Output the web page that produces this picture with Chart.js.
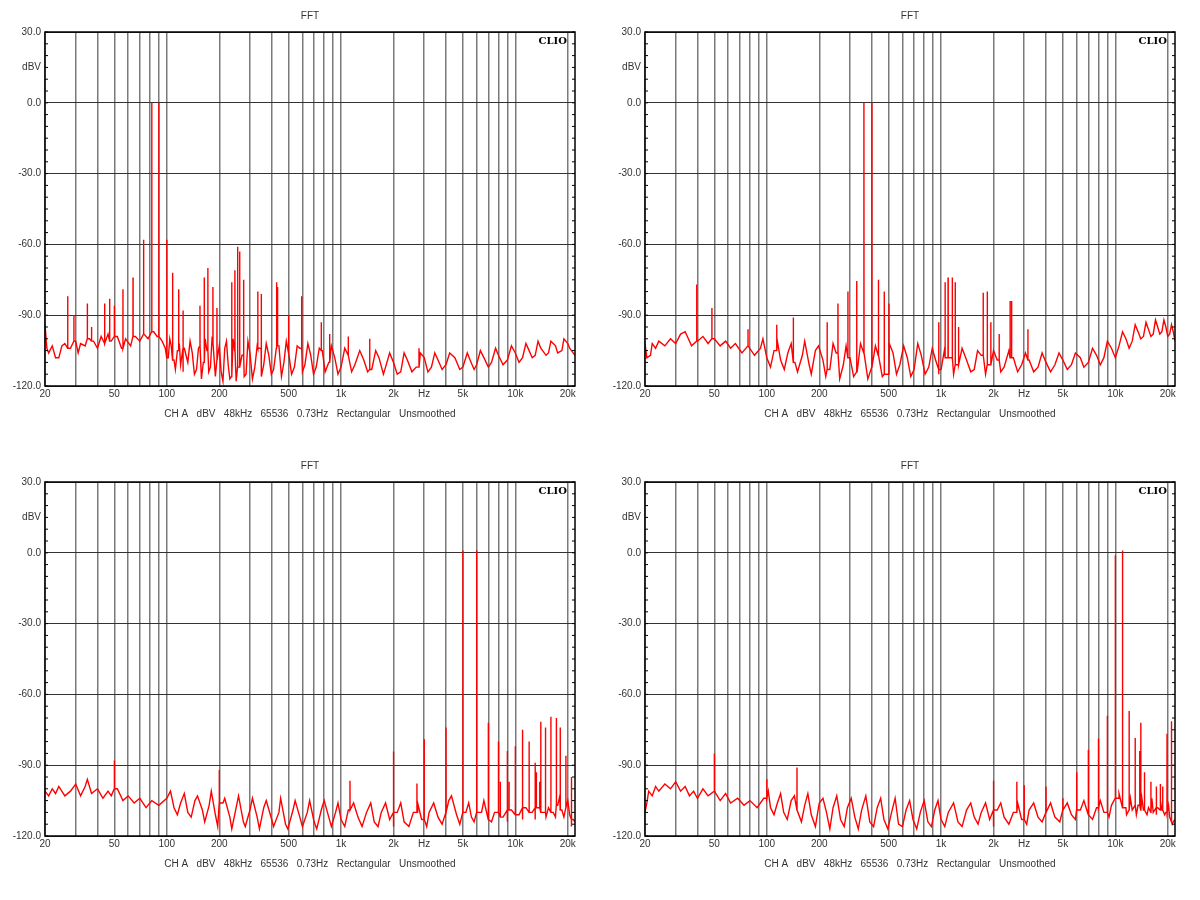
<!DOCTYPE html>
<html>
<head>
<meta charset="utf-8">
<script src="https://cdn.jsdelivr.net/npm/chart.js@4/dist/chart.umd.min.js"></script>
<style>
  body { margin: 0; background: #fff; }
  #wrap { position: relative; width: 1200px; height: 900px; }
  canvas { position: absolute; }
</style>
</head>
<body>
<div id="wrap">
  <canvas id="c0" style="left:0;top:0" width="600" height="450"></canvas>
  <canvas id="c1" style="left:600px;top:0" width="600" height="450"></canvas>
  <canvas id="c2" style="left:0;top:450px" width="600" height="450"></canvas>
  <canvas id="c3" style="left:600px;top:450px" width="600" height="450"></canvas>
</div>
<script>
// x grid lines and tick labels
const gridHz = [20, 30, 40, 50, 60, 70, 80, 90, 100, 200, 300, 400, 500, 600, 700, 800, 900,
  1000, 2000, 3000, 4000, 5000, 6000, 7000, 8000, 9000, 10000, 20000];
const tickLabels = { 20: "20", 50: "50", 100: "100", 200: "200", 500: "500", 1000: "1k",
  2000: "2k", 3000: "Hz", 5000: "5k", 10000: "10k", 20000: "20k" };
const caption = "CH A   dBV   48kHz   65536   0.73Hz   Rectangular   Unsmoothed";

// panel 1: 82 Hz + 90 Hz
const floor1 = [[20,-94],[20.5,-104],[21,-106],[22,-103],[23,-108],[24,-108],[25,-103],[26,-102],[28,-104],[30,-101],[31,-106],[32,-102],[34,-103],[36,-100],[38,-101],[40,-104],[42,-99],[44,-102],[46,-98],[48,-101],[52,-99],[55,-104],[58,-100],[62,-103],[66,-99],[70,-101],[74,-98],[78,-100],[84,-97],[88,-99],[94,-101],[98,-104],[102,-108],[106,-103],[110,-109],[115,-105],[120,-111],[126,-104],[132,-110],[140,-106],[148,-113],[155,-103],[162,-110],[170,-105],[178,-112],[186,-102],[195,-109],[205,-114],[215,-104],[225,-111],[235,-116],[245,-105],[255,-112],[270,-107],[285,-115],[300,-106],[320,-112],[340,-104],[360,-111],[385,-107],[410,-113],[440,-103],[470,-110],[500,-106],[540,-112],[580,-104],[620,-111],[670,-107],[720,-112],[780,-105],[850,-110],[920,-108],[1000,-112],[1100,-107],[1200,-111],[1350,-109],[1500,-113],[1650,-108],[1800,-112],[2000,-110],[2200,-114],[2400,-109],[2700,-112],[3000,-108],[3300,-112],[3600,-109],[4000,-111],[4500,-108],[5000,-112],[5500,-109],[6000,-111],[6600,-108],[7300,-110],[8000,-107],[9000,-109],[10000,-106],[11000,-108],[12000,-105],[13000,-107],[14000,-104],[15500,-106],[17000,-103],[18500,-105],[20000,-102],[21000,-105],[22000,-107]];
const grass1 = [[104,-100],[112,-113],[118,-102],[124,-114],[136,-101],[144,-115],[152,-104],[158,-117],[166,-100],[174,-114],[182,-99],[190,-116],[200,-103],[210,-118],[220,-101],[230,-117],[240,-100],[250,-118],[262,-102],[278,-116],[292,-101],[310,-117],[330,-103],[350,-116],[372,-102],[398,-115],[425,-104],[455,-116],[485,-101],[520,-115],[560,-103],[600,-114],[645,-102],[695,-115],[750,-104],[810,-114],[880,-103],[960,-115],[1050,-104],[1150,-114],[1280,-105],[1420,-114],[1580,-105],[1750,-115],[1900,-106],[2100,-115],[2300,-106],[2550,-114],[2850,-106],[3150,-114],[3450,-106],[3800,-113],[4200,-106],[4800,-113],[5300,-106],[5800,-113],[6300,-105],[7000,-112],[7700,-104],[8500,-111],[9500,-103],[10500,-110],[11500,-102],[12500,-108],[13500,-101],[15000,-107],[16000,-101],[17500,-106],[19000,-100],[20500,-104]];
const spikes1 = [[27,-82],[29.3,-90],[35,-85],[37,-95],[44,-85],[47,-83],[50,-86],[56,-79],[64,-74],[73.6,-58],[82,0],[90,0],[100,-58],[108,-72],[117,-79],[124,-88],[155,-86],[164,-74],[172,-70],[184,-78],[194,-87],[236,-76],[246,-71],[255,-61],[262,-63],[276,-75],[333,-80],[348,-81],[427,-76],[432,-78],[500,-90],[594,-82],[770,-93],[860,-98],[1100,-99],[1460,-100],[2800,-104]];

// panel 2: 361 Hz + 401 Hz
const floor2 = [[20,-102],[20.5,-108],[21.5,-107],[22,-102],[23,-104],[24,-101],[26,-103],[28,-100],[30,-102],[32,-98],[34,-97],[35,-99],[37,-103],[40,-101],[43,-99],[46,-102],[50,-100],[54,-103],[58,-101],[62,-104],[66,-102],[72,-106],[78,-103],[85,-107],[92,-104],[100,-108],[110,-105],[120,-109],[132,-106],[145,-110],[160,-107],[175,-111],[190,-105],[210,-109],[230,-113],[250,-106],[275,-111],[300,-108],[330,-114],[360,-106],[400,-112],[440,-107],[480,-115],[530,-106],[580,-111],[640,-108],[700,-113],[770,-107],[850,-112],[930,-109],[1000,-113],[1100,-108],[1250,-111],[1400,-109],[1550,-113],[1700,-107],[1900,-111],[2100,-109],[2300,-112],[2600,-108],[2900,-111],[3200,-109],[3600,-112],[4000,-110],[4500,-111],[5000,-109],[5600,-111],[6300,-108],[7000,-110],[7800,-107],[8600,-108],[9500,-104],[10500,-103],[11500,-100],[12500,-101],[13500,-97],[14500,-99],[15500,-96],[16500,-98],[17500,-95],[18500,-97],[19500,-95],[20500,-98],[21500,-97],[22000,-101]];
const grass2 = [[95,-100],[105,-112],[115,-101],[126,-113],[138,-102],[150,-114],[165,-101],[180,-115],[198,-103],[218,-116],[240,-102],[262,-117],[285,-103],[315,-116],[345,-102],[380,-117],[420,-103],[460,-116],[505,-102],[555,-115],[610,-103],[670,-116],[735,-102],[810,-115],[890,-104],[970,-115],[1050,-104],[1180,-115],[1320,-104],[1480,-114],[1620,-105],[1800,-115],[2000,-105],[2200,-114],[2450,-105],[2750,-114],[3050,-106],[3400,-114],[3800,-106],[4250,-114],[4750,-106],[5300,-113],[5900,-106],[6600,-112],[7400,-104],[8200,-111],[9000,-101],[10000,-108],[11000,-97],[12000,-104],[13000,-94],[14000,-100],[15000,-93],[16000,-99],[17000,-92],[18000,-98],[19000,-92],[20000,-99],[21000,-94]];
const spikes2 = [[39.6,-77],[48.4,-87],[78,-96],[114,-94],[142,-91],[222,-93],[256,-85],[292,-80],[328,-75.5],[361,0],[401,0],[436,-75],[472,-80],[502,-85],[970,-93],[1055,-76],[1097,-74],[1160,-74],[1206,-76],[1260,-95],[1745,-80.5],[1842,-80],[1930,-93],[2155,-98],[2490,-84],[2540,-84],[3150,-96]];

// panel 3: 5 kHz + 6 kHz
const floor3 = [[20,-101],[21,-103],[22,-100],[23,-102],[24,-99],[26,-103],[28,-101],[30,-98],[32,-103],[34,-99],[35,-96],[37,-102],[40,-100],[43,-104],[46,-101],[48,-103],[52,-100],[56,-105],[60,-103],[65,-106],[70,-104],[76,-108],[82,-105],[90,-107],[100,-104],[110,-108],[120,-106],[132,-110],[145,-105],[160,-109],[175,-107],[190,-111],[210,-106],[230,-112],[250,-108],[275,-114],[300,-109],[330,-112],[360,-108],[400,-113],[440,-110],[480,-115],[530,-109],[580,-112],[640,-110],[700,-114],[770,-109],[850,-112],[930,-110],[1000,-113],[1100,-109],[1250,-112],[1400,-110],[1550,-114],[1700,-110],[1900,-113],[2100,-110],[2300,-114],[2600,-110],[2900,-113],[3200,-110],[3600,-112],[4000,-110],[4300,-103],[4600,-111],[5200,-110],[5600,-112],[6400,-110],[7000,-113],[7600,-110],[8500,-112],[9500,-109],[10500,-111],[11500,-108],[12500,-110],[13500,-108],[14500,-110],[15500,-108],[16500,-110],[17500,-107],[18500,-109],[19500,-108],[20500,-111],[21500,-113],[22000,-114]];
const grass3 = [[105,-101],[115,-111],[126,-102],[138,-112],[150,-103],[165,-114],[180,-101],[196,-116],[215,-104],[236,-117],[258,-103],[282,-116],[310,-104],[340,-117],[372,-105],[410,-116],[450,-104],[495,-117],[545,-105],[600,-116],[660,-105],[725,-117],[800,-105],[880,-116],[960,-106],[1050,-116],[1180,-106],[1320,-116],[1480,-106],[1630,-116],[1800,-106],[2000,-116],[2200,-106],[2450,-116],[2750,-106],[3100,-116],[3400,-106],[3800,-115],[4150,-105],[4800,-115],[5400,-106],[5800,-114],[6600,-105],[7300,-114],[8000,-105],[9000,-114],[10000,-104],[11000,-113],[12000,-104],[13000,-113],[14000,-104],[15000,-112],[16000,-104],[17000,-112],[18000,-103],[19000,-112],[20000,-105],[21000,-116]];
const spikes3 = [[50,-88],[200,-92],[1125,-96.6],[2000,-84.2],[2725,-97.8],[3000,-79],[4000,-74],[5000,1],[6000,1],[7000,-72],[8000,-80],[8200,-97],[9000,-84],[9200,-97],[10000,-82],[11000,-75],[12000,-80],[13000,-89],[13200,-93],[13800,-97],[14000,-71.6],[14900,-74],[16000,-69.5],[17200,-70],[18100,-74],[19500,-86],[21000,-95]];

// panel 4: 10 kHz + 11 kHz
const floor4 = [[20,-110],[20.5,-106],[21,-101],[22,-103],[23,-99],[24,-101],[26,-98],[28,-100],[30,-97],[32,-101],[34,-99],[36,-103],[38,-101],[40,-104],[43,-100],[46,-103],[50,-101],[54,-105],[58,-102],[62,-106],[68,-104],[74,-107],[80,-105],[88,-108],[96,-104],[105,-108],[115,-106],[125,-110],[138,-105],[150,-109],[165,-107],[180,-111],[200,-106],[220,-110],[240,-108],[265,-113],[290,-108],[320,-112],[350,-109],[390,-114],[430,-108],[470,-113],[520,-110],[570,-115],[630,-109],[690,-113],[760,-110],[840,-114],[920,-109],[1000,-113],[1100,-110],[1250,-114],[1400,-109],[1550,-112],[1700,-110],[1900,-113],[2100,-109],[2300,-112],[2600,-110],[2900,-113],[3200,-109],[3600,-112],[4000,-110],[4500,-112],[5000,-109],[5600,-111],[6300,-109],[7000,-111],[7800,-108],[8600,-110],[9500,-107],[10500,-104],[11500,-108],[12500,-109],[13500,-107],[14500,-109],[15500,-108],[16500,-110],[17500,-108],[18500,-109],[19500,-110],[20500,-112],[21500,-114],[22000,-113]];
const grass4 = [[102,-101],[110,-111],[120,-102],[131,-113],[144,-103],[158,-114],[172,-102],[190,-116],[210,-104],[230,-117],[252,-103],[278,-116],[305,-104],[335,-117],[370,-103],[410,-116],[450,-104],[495,-117],[545,-104],[600,-116],[660,-105],[725,-117],[800,-105],[880,-116],[960,-105],[1050,-116],[1180,-106],[1320,-116],[1480,-106],[1630,-115],[1800,-106],[2000,-116],[2200,-106],[2450,-115],[2750,-106],[3100,-115],[3400,-106],[3800,-114],[4250,-106],[4800,-114],[5300,-106],[5900,-113],[6600,-105],[7400,-113],[8200,-105],[9200,-112],[10500,-102],[11600,-111],[12200,-104],[13200,-111],[14200,-104],[15200,-111],[16200,-104],[17200,-111],[18200,-105],[19200,-111],[20200,-107],[21200,-115]];
const spikes4 = [[50,-85],[100,-96],[149,-91],[2000,-96.6],[2720,-97],[3000,-98.5],[4000,-99],[5000,-104],[6000,-93],[7000,-83.5],[8000,-78.7],[9000,-69],[10000,-1],[11000,1],[12000,-67],[13000,-78.5],[13800,-84],[14000,-72],[14700,-93],[16000,-97],[17200,-99],[18100,-98],[18700,-99],[19800,-76.7],[21000,-71.4]];

function nearestFloor(floor, hz) {
  let best = floor[0];
  floor.forEach((p) => {
    if (Math.abs(Math.log(p[0] / hz)) < Math.abs(Math.log(best[0] / hz))) best = p;
  });
  return best[1];
}

function buildPoints(floor, grass, spikes) {
  let pts = floor.concat(grass).map((p) => ({ x: p[0], y: p[1] }));
  spikes.forEach((s) => {
    let base = nearestFloor(floor, s[0]);
    pts.push({ x: s[0] * 0.999, y: base });
    pts.push({ x: s[0], y: s[1] });
    pts.push({ x: s[0] * 1.001, y: base });
  });
  return pts.sort((a, b) => a.x - b.x);
}

const framePlugin = {
  id: "frame",
  afterDraw(chart) {
    let ctx = chart.ctx;
    let a = chart.chartArea;
    let ys = chart.scales.y;
    ctx.save();
    ctx.strokeStyle = "#000";
    ctx.lineWidth = 1.5;
    ctx.strokeRect(a.left, a.top, a.right - a.left, a.bottom - a.top);
    ctx.lineWidth = 1;
    for (let v = -120; v <= 30; v += 5) {
      let y = ys.getPixelForValue(v);
      ctx.beginPath();
      ctx.moveTo(a.left, y); ctx.lineTo(a.left + 3, y);
      ctx.moveTo(a.right, y); ctx.lineTo(a.right - 3, y);
      ctx.stroke();
    }
    ctx.fillStyle = "#000";
    ctx.font = "bold 10px 'DejaVu Serif'";
    ctx.textAlign = "right";
    ctx.textBaseline = "top";
    ctx.fillText("CLIO", a.right - 8, a.top + 4);
    ctx.font = "10px 'Liberation Sans'";
    ctx.fillStyle = "#333";
    ctx.textAlign = "center";
    ctx.fillText("FFT", (a.left + a.right) / 2, 11);
    ctx.restore();
  },
};

function makeChart(id, floor, grass, spikes) {
  let ctx = document.getElementById(id).getContext("2d");
  return new Chart(ctx, {
    type: "line",
    data: {
      datasets: [
        {
          data: buildPoints(floor, grass, spikes),
          borderColor: "#ff0000",
          borderWidth: 1.4,
          pointRadius: 0,
          tension: 0,
          fill: false,
        },
      ],
    },
    options: {
      responsive: false,
      animation: false,
      layout: { padding: { top: 32, right: 25, bottom: 30, left: 0 } },
      plugins: { legend: { display: false }, tooltip: { enabled: false } },
      scales: {
        x: {
          type: "logarithmic",
          min: 20,
          max: 22000,
          afterBuildTicks: (axis) => {
            axis.ticks = gridHz.map((v) => ({ value: v }));
          },
          afterFit: (axis) => { axis.height = 34; },
          ticks: {
            autoSkip: false,
            maxRotation: 0,
            color: "#333",
            font: { size: 10, family: "Liberation Sans" },
            padding: 2,
            callback: (v) => tickLabels[v] || "",
          },
          grid: { color: "#7a7a7a", lineWidth: 1.5, drawTicks: false },
          border: { display: false },
          title: {
            display: true,
            text: caption,
            color: "#333",
            font: { size: 10, family: "Liberation Sans" },
            padding: { top: 0, bottom: 0 },
          },
        },
        y: {
          min: -120,
          max: 30,
          afterBuildTicks: (axis) => {
            let t = [];
            for (let v = -120; v <= 30; v += 15) t.push({ value: v });
            axis.ticks = t;
          },
          afterFit: (axis) => { axis.width = 45; },
          ticks: {
            autoSkip: false,
            color: "#333",
            font: { size: 10, family: "Liberation Sans" },
            padding: 4,
            callback: (v) => (v % 30 === 0 ? v.toFixed(1) : v === 15 ? "dBV" : ""),
          },
          grid: {
            color: (c) => (c.tick && c.tick.value % 30 === 0 ? "#333" : "rgba(0,0,0,0)"),
            lineWidth: 1,
            drawTicks: false,
          },
          border: { display: false },
        },
      },
    },
    plugins: [framePlugin],
  });
}

makeChart("c0", floor1, grass1, spikes1);
makeChart("c1", floor2, grass2, spikes2);
makeChart("c2", floor3, grass3, spikes3);
makeChart("c3", floor4, grass4, spikes4);
</script>
</body>
</html>
